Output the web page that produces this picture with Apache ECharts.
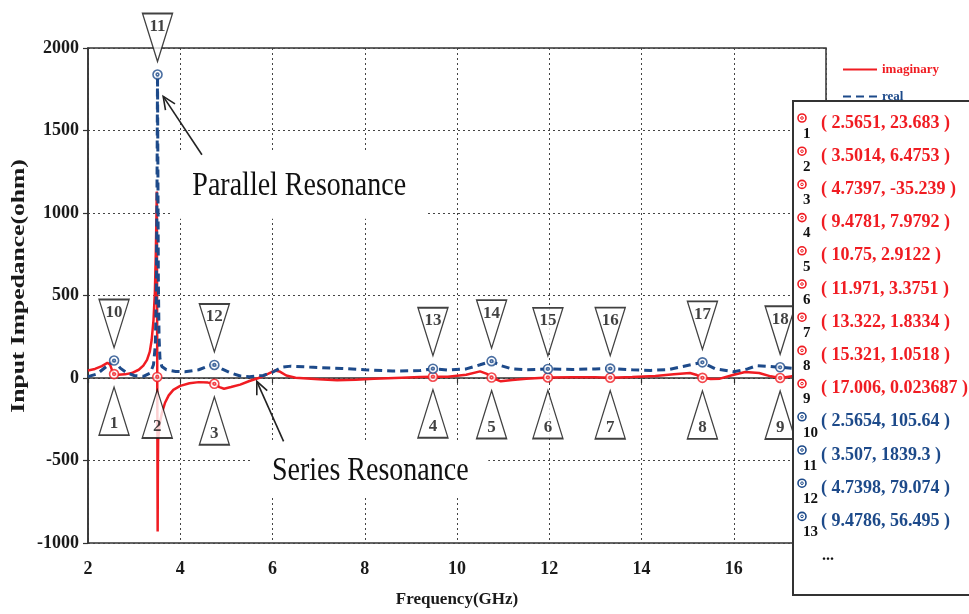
<!DOCTYPE html>
<html><head><meta charset="utf-8">
<script src="https://cdn.jsdelivr.net/npm/echarts@6/dist/echarts.min.js"></script>
<style>html,body{margin:0;padding:0;background:#fff}#c{width:969px;height:614px}</style>
</head><body><div id="c"></div>
<script>
// ---------- data ----------
const xTicks = [2, 4, 6, 8, 10, 12, 14, 16, 18];
const yTicks = [-1000, -500, 0, 500, 1000, 1500, 2000];

const freqImag = [2.00,2.15,2.30,2.42,2.48,2.53,2.5651,2.65,2.80,2.95,3.10,3.20,3.28,3.34,3.38,3.42,3.45,3.47,3.485,3.492,3.497,3.5014,3.506,3.51,3.514,3.52,3.55,3.60,3.67,3.75,3.85,4.00,4.20,4.40,4.60,4.7397,4.85,4.95,5.10,5.30,5.50,5.70,5.90,6.05,6.15,6.30,6.50,7.00,7.40,7.80,8.20,8.80,9.20,9.4781,9.80,10.20,10.50,10.65,10.75,10.95,11.20,11.50,11.971,12.50,13.00,13.322,13.80,14.30,14.70,15.05,15.20,15.321,15.50,15.70,16.00,16.25,16.55,16.80,17.006,17.30,17.60,18.00];
const imag = [45,55,72,92,80,40,23.683,20,22,30,50,75,110,160,230,350,520,750,1000,1130,600,6.4753,-500,-930,-600,-380,-280,-215,-150,-105,-72,-48,-32,-25,-28,-35.239,-55,-65,-55,-40,-18,0,25,45,40,15,2,-8,-14,-10,-4,2,6,7.9792,8,20,40,25,2.9122,-20,-12,-4,3.3751,5,4,1.8334,6,12,22,30,18,1.0518,-6,-4,20,36,30,10,0.023687,12,16,20];

const freqReal = [2.00,2.20,2.40,2.5654,2.70,2.85,3.00,3.20,3.35,3.42,3.46,3.48,3.495,3.507,3.515,3.525,3.54,3.56,3.60,3.70,3.90,4.10,4.40,4.60,4.7398,4.90,5.10,5.30,5.50,5.80,6.00,6.20,6.40,6.80,7.50,8.00,8.60,9.20,9.4786,9.80,10.20,10.50,10.75,10.95,11.20,11.50,11.971,12.50,13.00,13.322,13.80,14.20,14.60,14.90,15.321,15.60,16.00,16.30,16.50,16.80,17.006,17.30,17.60,18.00];
const real = [8,25,70,105.64,60,30,15,10,30,80,200,500,1100,1839.3,1300,600,250,120,70,50,40,38,50,72,79.074,55,30,12,8,15,35,65,72,66,58,50,42,45,56.495,48,55,80,102,75,55,50,55,52,55,57,50,46,52,70,95,55,38,55,75,70,65,58,50,52];

// marker points (1-9 on imaginary, 10-18 on real)
const redMarkNum = [1,2,3,4,5,6,7,8,9];
const redMarkF = [2.5651,3.5014,4.7397,9.4781,10.75,11.971,13.322,15.321,17.006];
const redMarkV = [23.683,6.4753,-35.239,7.9792,2.9122,3.3751,1.8334,1.0518,0.023687];
const blueMarkNum = [10,11,12,13,14,15,16,17,18];
const blueMarkF = [2.5654,3.507,4.7398,9.4786,10.75,11.971,13.322,15.321,17.006];
const blueMarkV = [105.64,1839.3,79.074,56.495,102,55,57,95,65];
// rows listed in the marker table
const tableRedRows = 9;
const tableBlueRows = 4;

// ---------- style ----------
const FONT = '"Liberation Serif", "Times New Roman", serif';
const RED = '#f01c22', BLUE = '#1d4a8a';
const RING = 'path://M0,10a10,10 0 1,0 20,0a10,10 0 1,0 -20,0M7,10a3,3 0 1,0 6,0a3,3 0 1,0 -6,0';

const chart = echarts.init(document.getElementById('c'), null, {renderer: 'canvas'});

const pairs = (a, b) => a.map((v, i) => [v, b[i]]);
const triples = (a, b, c) => a.map((v, i) => [v, b[i], c[i]]);

chart.setOption({
  animation: false,
  backgroundColor: '#fff',
  grid: {left: 88, right: 143, top: 48, bottom: 71, show: true, borderColor: '#333', borderWidth: 1.5,
         backgroundColor: 'transparent', containLabel: false, outerBoundsMode: 'none'},
  legend: {
    orient: 'vertical', left: 837, top: 58, itemWidth: 34, itemHeight: 12, itemGap: 14,
    itemStyle: {opacity: 0},
    data: [
      {name: 'imaginary', textStyle: {color: RED}},
      {name: 'real', textStyle: {color: BLUE}}
    ],
    textStyle: {fontFamily: FONT, fontWeight: 'bold', fontSize: 13}
  },
  xAxis: {
    type: 'value', min: xTicks[0], max: xTicks[xTicks.length - 1], interval: 2,
    axisLine: {lineStyle: {color: '#333', width: 1.5}},
    axisTick: {show: true, length: 5, lineStyle: {color: '#333', width: 1.2}},
    axisLabel: {fontFamily: FONT, fontWeight: 'bold', fontSize: 18, color: '#1a1a1a', margin: 17, formatter: v => String(v)},
    splitLine: {show: true, lineStyle: {type: [2, 3], color: '#444', width: 1}},
    name: 'Frequency(GHz)', nameLocation: 'middle', nameGap: 48,
    nameTextStyle: {fontFamily: FONT, fontWeight: 'bold', fontSize: 17, color: '#1a1a1a'}
  },
  yAxis: {
    type: 'value', min: yTicks[0], max: yTicks[yTicks.length - 1], interval: 500,
    axisLine: {show: true, lineStyle: {color: '#333', width: 1.5}},
    axisTick: {show: true, length: 5, lineStyle: {color: '#333', width: 1.2}},
    axisLabel: {fontFamily: FONT, fontWeight: 'bold', fontSize: 18, color: '#1a1a1a', margin: 9, formatter: v => String(v)},
    splitLine: {show: true, lineStyle: {type: [2, 3], color: '#444', width: 1}}
  },
  series: [
    {name: 'imaginary', type: 'line', data: pairs(freqImag, imag), symbol: 'none',
     lineStyle: {color: RED, width: 2.5}, itemStyle: {color: RED}, z: 2},
    {name: 'real', type: 'line', data: pairs(freqReal, real), symbol: 'none',
     lineStyle: {color: BLUE, width: 3, type: [8, 5]}, itemStyle: {color: BLUE}, z: 3},
    {name: 'imagMarks', type: 'scatter', data: pairs(redMarkF, redMarkV), symbol: RING, symbolSize: 9,
     itemStyle: {color: '#fff', borderColor: RED, borderWidth: 1.6}, z: 5, silent: true, clip: false},
    {name: 'realMarks', type: 'scatter', data: pairs(blueMarkF, blueMarkV), symbol: RING, symbolSize: 9,
     itemStyle: {color: '#fff', borderColor: BLUE, borderWidth: 1.6}, z: 5, silent: true, clip: false},
    {name: 'imagTri', type: 'scatter', data: triples(redMarkF, redMarkV, redMarkNum),
     symbol: 'path://M15,0L30,48L0,48Z', symbolSize: [30, 48], symbolOffset: [0, 37],
     itemStyle: {color: '#fff', borderColor: '#111', borderWidth: 1.5}, z: 4, silent: true, clip: false,
     label: {show: true, position: 'inside', offset: [0, 13], formatter: p => p.value[2],
             fontFamily: FONT, fontWeight: 'bold', fontSize: 17, color: '#111'}},
    {name: 'realTri', type: 'scatter', data: triples(blueMarkF, blueMarkV, blueMarkNum),
     symbol: 'path://M0,0L30,0L15,48Z', symbolSize: [30, 48], symbolOffset: [0, -37],
     itemStyle: {color: '#fff', borderColor: '#111', borderWidth: 1.5}, z: 4, silent: true, clip: false,
     label: {show: true, position: 'inside', offset: [0, -11], formatter: p => p.value[2],
             fontFamily: FONT, fontWeight: 'bold', fontSize: 17, color: '#111'}}
  ]
});

// ---------- annotations (anchored in data coordinates) ----------
const P = (x, y) => chart.convertToPixel({gridIndex: 0}, [x, y]);
function arrow(head, tail) {
  const dx = tail[0] - head[0], dy = tail[1] - head[1];
  const L = Math.hypot(dx, dy), ux = dx / L, uy = dy / L, a = 0.42, h = 14;
  const r = (ang) => [head[0] + h * (ux * Math.cos(ang) - uy * Math.sin(ang)), head[1] + h * (ux * Math.sin(ang) + uy * Math.cos(ang))];
  return [
    {type: 'line', z: 6, shape: {x1: head[0], y1: head[1], x2: tail[0], y2: tail[1]}, style: {stroke: '#222', lineWidth: 1.6}},
    {type: 'polyline', z: 6, shape: {points: [r(a), head, r(-a)]}, style: {stroke: '#222', lineWidth: 1.6, fill: null}}
  ];
}
const parText = P(6.58, 1165), serText = P(8.12, -562);
const graphics = [];
// y axis title (rotated, stretched along its length like the source image)
graphics.push({type: 'text', z: 6, x: 19, y: 286, rotation: Math.PI / 2, scaleX: 1.42,
  style: {text: 'Input Impedance(ohm)', font: 'bold 18px ' + FONT, fill: '#1a1a1a', textAlign: 'center', textVerticalAlign: 'middle'}});
graphics.push({type: 'rect', z: 1, shape: {x: parText[0] - 127, y: parText[1] - 33, width: 254, height: 66}, style: {fill: '#fff'}});
graphics.push({type: 'rect', z: 1, shape: {x: serText[0] - 118, y: serText[1] - 29, width: 236, height: 56}, style: {fill: '#fff'}});
graphics.push({type: 'text', z: 6, x: parText[0], y: parText[1], scaleY: 1.22,
  style: {text: 'Parallel Resonance', font: '28px ' + FONT, fill: '#111', textAlign: 'center', textVerticalAlign: 'middle'}});
graphics.push({type: 'text', z: 6, x: serText[0], y: serText[1], scaleY: 1.22,
  style: {text: 'Series Resonance', font: '28px ' + FONT, fill: '#111', textAlign: 'center', textVerticalAlign: 'middle'}});
graphics.push(...arrow(P(3.63, 1707), P(4.47, 1353)));
graphics.push(...arrow(P(5.66, -20), P(6.24, -384)));

// ---------- marker table ----------
const boxX = 793, boxY = 101, rowY0 = 123, rowStep = 33.2;
graphics.push({type: 'rect', z: 20, shape: {x: boxX, y: boxY, width: 220, height: 494}, style: {fill: '#fff', stroke: '#333', lineWidth: 2}});
const rows = [];
for (let i = 0; i < tableRedRows; i++) rows.push({n: redMarkNum[i], f: redMarkF[i], v: redMarkV[i], c: RED});
for (let i = 0; i < tableBlueRows; i++) rows.push({n: blueMarkNum[i], f: blueMarkF[i], v: blueMarkV[i], c: BLUE});
rows.forEach((r, i) => {
  const y = rowY0 + i * rowStep;
  graphics.push({type: 'circle', z: 21, shape: {cx: 802, cy: y - 5, r: 4}, style: {fill: '#fff', stroke: r.c, lineWidth: 1.6}});
  graphics.push({type: 'circle', z: 21, shape: {cx: 802, cy: y - 5, r: 1.3}, style: {fill: '#fff', stroke: r.c, lineWidth: 1}});
  graphics.push({type: 'text', z: 21, x: 803, y: y + 11,
    style: {text: String(r.n), font: 'bold 15px ' + FONT, fill: '#111', textAlign: 'left', textVerticalAlign: 'middle'}});
  graphics.push({type: 'text', z: 21, x: 821, y: y,
    style: {text: '( ' + r.f + ', ' + r.v + ' )', font: 'bold 18px ' + FONT, fill: r.c, textAlign: 'left', textVerticalAlign: 'middle'}});
});
graphics.push({type: 'text', z: 21, x: 822, y: rowY0 + rows.length * rowStep + 1,
  style: {text: '...', font: 'bold 16px ' + FONT, fill: '#111', textAlign: 'left', textVerticalAlign: 'middle'}});

chart.setOption({graphic: graphics});
</script>
</body></html>
